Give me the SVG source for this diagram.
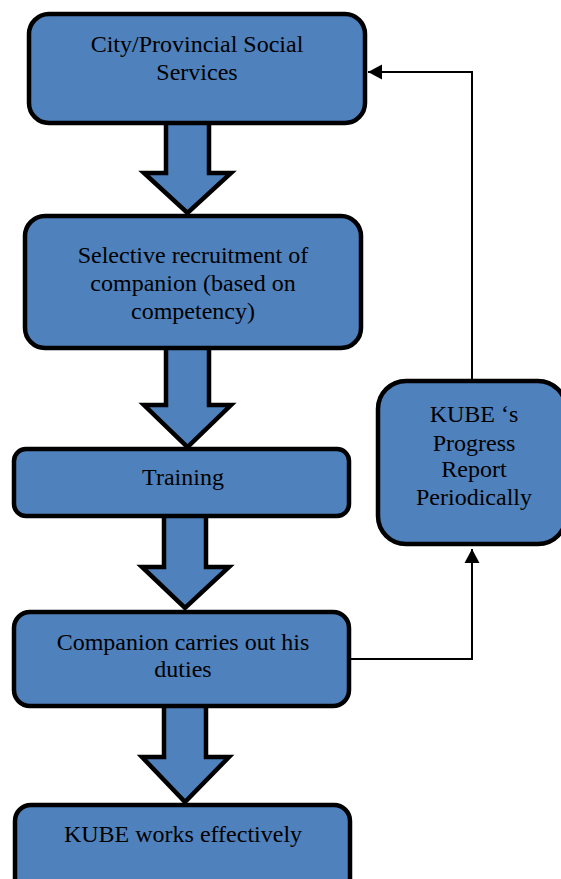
<svg xmlns="http://www.w3.org/2000/svg" width="561" height="879" viewBox="0 0 561 879">
<style>
.box{fill:#4F81BD;stroke:#000;stroke-width:4.5}
.big{fill:#4F81BD;stroke:#000;stroke-width:4.5;stroke-linejoin:miter}
.line{fill:none;stroke:#000;stroke-width:2}
text{font-family:"Liberation Serif","Times New Roman",serif;font-size:24px;fill:#000;text-anchor:middle}
</style>
<defs>
<marker id="ah" markerUnits="userSpaceOnUse" markerWidth="16" markerHeight="16" viewBox="0 0 14 16" refX="14" refY="8" orient="auto">
<path d="M0,0.5 L14,8 L0,15.5 Z" fill="#000"/>
</marker>
</defs>
<g id="connectors">
<polygon class="big" points="166,120 209,120 209,173 231,173 187.5,213 144,173 166,173"/>
<polygon class="big" points="166,346 209,346 209,405 231,405 187.5,447 144,405 166,405"/>
<polygon class="big" points="164,515 206,515 206,567 229,567 185,608 142,567 164,567"/>
<polygon class="big" points="164,705 206,705 206,757 229,757 185,802 142,757 164,757"/>
<path class="line" d="M350,659 H472 V549" marker-end="url(#ah)"/>
<path class="line" d="M472,380 V72 H368" marker-end="url(#ah)"/>
</g>
<g id="n1">
<rect class="box" x="29" y="14" width="336" height="109" rx="20"/>
<text x="197" y="52">City/Provincial Social</text>
<text x="197" y="80">Services</text>
</g>
<g id="n2">
<rect class="box" x="25" y="216" width="336" height="132" rx="20"/>
<text x="193" y="263">Selective recruitment of</text>
<text x="193" y="291">companion (based on</text>
<text x="193" y="319">competency)</text>
</g>
<g id="n3">
<rect class="box" x="14" y="449" width="335" height="67" rx="12"/>
<text x="183" y="485">Training</text>
</g>
<g id="n4">
<rect class="box" x="14" y="612" width="335" height="94" rx="16"/>
<text x="183" y="650">Companion carries out his</text>
<text x="183" y="677">duties</text>
</g>
<g id="n5">
<rect class="box" x="15" y="805" width="335" height="90" rx="16"/>
<text x="183" y="842">KUBE works effectively</text>
</g>
<g id="n6">
<rect class="box" x="378" y="381" width="188" height="163" rx="28"/>
<text x="474" y="422">KUBE ‘s</text>
<text x="474" y="451">Progress</text>
<text x="474" y="477">Report</text>
<text x="474" y="505">Periodically</text>
</g>
</svg>
